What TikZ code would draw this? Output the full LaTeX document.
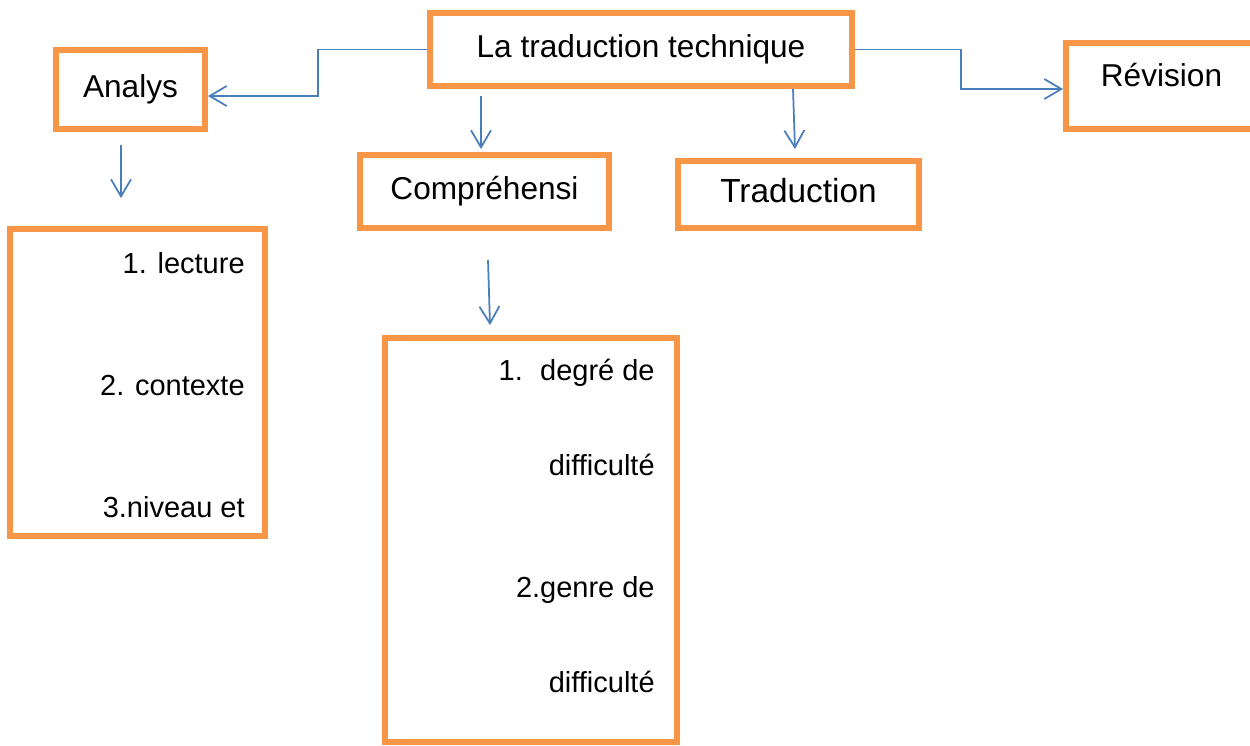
\documentclass[tikz,border=0pt]{standalone}
\usepackage{fontspec}
\setmainfont{Liberation Sans}
\usepackage{xcolor}
\usepackage{tikz}
\usetikzlibrary{calc,positioning,arrows.meta}
\definecolor{boxorange}{HTML}{F79646}
\definecolor{linkblue}{HTML}{4A7EBB}

\begin{document}
\begin{tikzpicture}[x=0.02cm, y=-0.02cm,
    box/.style={draw=boxorange, line width=3.4pt, inner sep=0pt, font=\fontsize{18}{20}\selectfont, text height=13.5pt, text depth=4.5pt},
    item/.style={anchor=base east, inner sep=0pt, font=\fontsize{16.5}{18}\selectfont},
    arr/.style={draw=linkblue, line width=1pt, -{Straight Barb[length=3.4mm, width=4mm]}}]
    \useasboundingbox (0,0) rectangle (1250,745);
    % boxes
    \node[box, minimum width=8.44cm, minimum height=1.46cm] (top) at (641,49.5) {La traduction technique};
    \node[box, minimum width=2.98cm, minimum height=1.58cm] (analys) at (130.5,89.5) {Analys};
    \node[box, minimum width=3.82cm, minimum height=1.72cm, text depth=13.5pt] (revision) at (1161.5,86) {Révision};
    \node[box, minimum width=4.98cm, minimum height=1.46cm] (compr) at (484.5,191.5) {Compréhensi};
    \node[box, minimum width=4.82cm, minimum height=1.34cm, font=\fontsize{19}{21}\selectfont] (trad) at (798.5,194.5) {Traduction};
    \node[box, minimum width=5.10cm, minimum height=6.14cm] (lista) at (137.5,382.5) {};
    \node[box, minimum width=5.84cm, minimum height=8.08cm] (listb) at (531,540) {};
    % list entries
    \node[item] (la1) at (245,273) {1. lecture};
    \node[item] (la2) at (245,395) {2. contexte};
    \node[item] (la3) at (245,517) {3.niveau et};
    \node[item] (lb1) at (655,380) {1.\hspace{0.6em}degré de};
    \node[item] (lb2) at (655,475) {difficulté};
    \node[item] (lb3) at (655,597) {2.genre de};
    \node[item] (lb4) at (655,692) {difficulté};
    % connectors
    \draw[arr] (top.west) -- ++(-109,0) |- ([yshift=-0.13cm]analys.east);
    \draw[arr] (top.east) -- ++(106,0) |- ([yshift=-0.06cm]revision.west);
    \draw[arr] ($(analys.south)+(-9.5,13)$) -- ($(lista.north)+(-16.5,-28)$);
    \draw[arr] ($(top.south)+(-160,7)$) -- ($(compr.north)+(-3.5,-3)$);
    \draw[arr] ($(top.south)+(152,0)$) -- ($(trad.north)+(-3.5,-9)$);
    \draw[arr] ($(compr.south)+(3.5,29)$) -- ($(listb.north)+(-41,-10)$);
\end{tikzpicture}
\end{document}
